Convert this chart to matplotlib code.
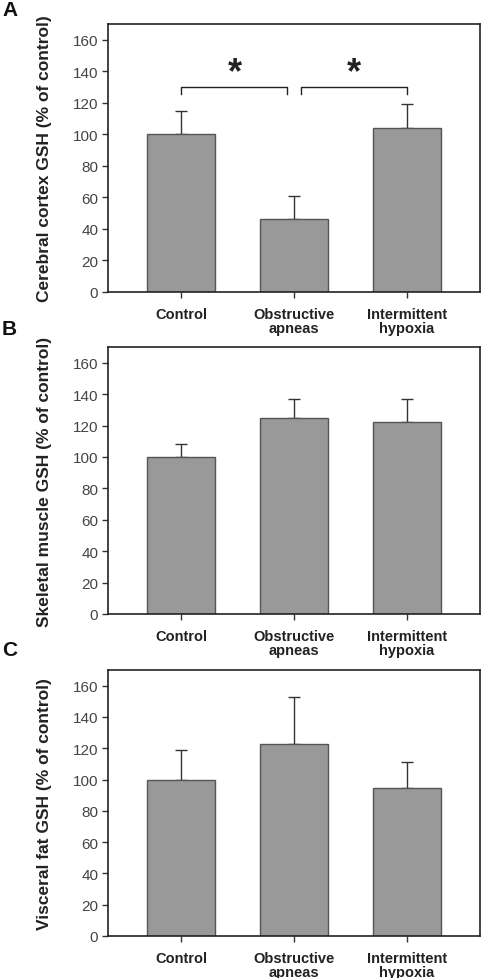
import matplotlib
matplotlib.use('agg')
import matplotlib.pyplot as plt

plt.rcParams['font.family'] = ['Liberation Sans', 'DejaVu Sans']

groups = ['Control', 'Obstructive\napneas', 'Intermittent\nhypoxia']

cortex_mean = [100, 46, 104]
cortex_sem = [15, 15, 15.5]

muscle_mean = [100, 125, 122]
muscle_sem = [8, 12, 15]

fat_mean = [100, 122.5, 94.5]
fat_sem = [19, 30.5, 16.5]

ylabels = ['Cerebral cortex GSH (% of control)',
           'Skeletal muscle GSH (% of control)',
           'Visceral fat GSH (% of control)']
panel_letters = ['A', 'B', 'C']
yticks = [0, 20, 40, 60, 80, 100, 120, 140, 160]

W, H = 482, 979
fig = plt.figure(figsize=(W / 100, H / 100), dpi=100)

# axes boxes in pixels: (left, top, right, bottom)
boxes = [(108, 25, 480, 293), (108, 348, 480, 615), (108, 671, 480, 937)]
letter_y = [10, 330, 651]
data = [(cortex_mean, cortex_sem), (muscle_mean, muscle_sem), (fat_mean, fat_sem)]

x = [0, 1, 2]
for i, (box, (m, s)) in enumerate(zip(boxes, data)):
    l, t, r, b = box
    ax = fig.add_axes([l / W, 1 - b / H, (r - l) / W, (b - t) / H])
    ax.bar(x, m, width=0.6, color='#999999', edgecolor='#555555', linewidth=1, zorder=2)
    ax.errorbar(x, m, yerr=[[0, 0, 0], s], fmt='none', ecolor='#333333',
                elinewidth=1, capsize=4, capthick=1, zorder=1)
    ax.set_xlim(-0.65, 2.65)
    ax.set_ylim(0, 170)
    ax.set_yticks(yticks)
    ax.set_yticklabels([str(v) for v in yticks], fontsize=11, color='#444444')
    ax.set_xticks(x)
    ax.set_xticklabels(groups, fontsize=10.5, fontweight='bold', color='#222222',
                       linespacing=1.0)
    ax.tick_params(axis='both', direction='out', length=4, width=1, color='#333333', pad=3)
    ax.tick_params(axis='x', pad=7)
    for sp in ax.spines.values():
        sp.set_color('#222222')
        sp.set_linewidth(1.2)
    ax.set_ylabel(ylabels[i], fontsize=12.5, fontweight='bold', color='#222222')
    ax.yaxis.set_label_coords((52 - l) / (r - l), 0.5)
    fig.text(2 / W, 1 - letter_y[i] / H, panel_letters[i], fontsize=15, fontweight='bold',
             ha='left', va='center', color='#111111')

    if i == 0:
        # significance brackets
        top, foot = 130, 125.5
        ax.plot([0, 0, 0.94, 0.94], [foot, top, top, foot], color='#222222', lw=1)
        ax.plot([1.06, 1.06, 2, 2], [foot, top, top, foot], color='#222222', lw=1)
        ax.text(0.48, 139, '*', ha='center', va='center', fontsize=26, fontweight='bold',
                color='#222222')
        ax.text(1.53, 139, '*', ha='center', va='center', fontsize=26, fontweight='bold',
                color='#222222')

fig.savefig('out.png', dpi=100)
